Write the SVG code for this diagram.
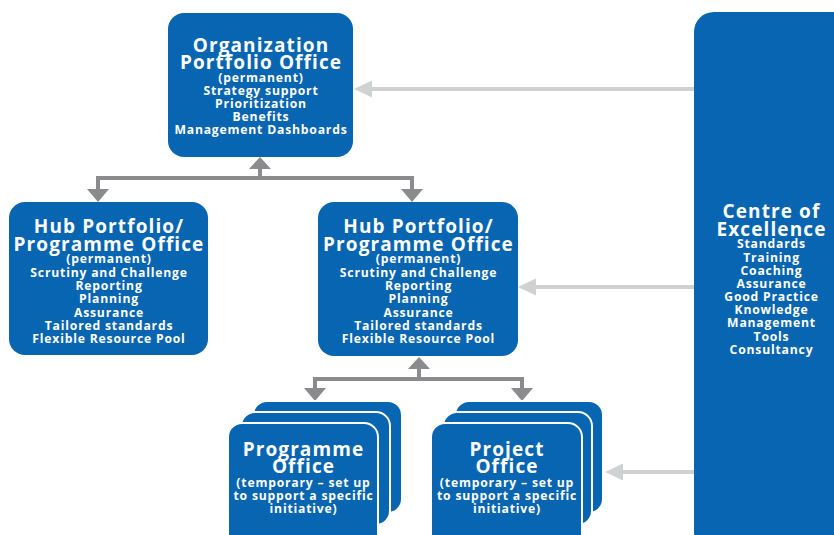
<svg xmlns="http://www.w3.org/2000/svg" width="834" height="535" viewBox="0 0 834 535">
<style>
.box{fill:#0865b1;}
.card{fill:#0865b1;stroke:#ffffff;stroke-width:2;}
.t{font-family:"Open Sans","Liberation Sans",sans-serif;font-weight:700;fill:#ffffff;text-anchor:middle;}
.h{font-size:19px;letter-spacing:1.1px;}
.s{font-size:12.2px;letter-spacing:0.8px;}
.dk{stroke:#8b8b8d;stroke-width:4;fill:none;}
.dkh{fill:#8b8b8d;}
.lt{stroke:#d0d1d3;stroke-width:4;fill:none;}
.lth{fill:#d0d1d3;}
</style>
<rect width="834" height="535" fill="#ffffff"/>
<g id="connectors">
<line class="lt" x1="694" y1="89" x2="370" y2="89"/>
<polygon class="lth" points="354,89 372,80.5 372,97.5"/>
<line class="lt" x1="694" y1="287" x2="533" y2="287"/>
<polygon class="lth" points="518,287 536,278.5 536,295.5"/>
<line class="lt" x1="694" y1="472" x2="620" y2="472"/>
<polygon class="lth" points="605,472 623,463.5 623,480.5"/>
<polyline class="dk" points="98,190 98,178 412,178 412,190"/>
<line class="dk" x1="260" y1="178" x2="260" y2="166"/>
<polygon class="dkh" points="260,157 249,169 271,169"/>
<polygon class="dkh" points="98,202 87,189 109,189"/>
<polygon class="dkh" points="412,202 401,189 423,189"/>
<polyline class="dk" points="315,389 315,379 522,379 522,389"/>
<line class="dk" x1="419" y1="379" x2="419" y2="367"/>
<polygon class="dkh" points="419,357 408,369 430,369"/>
<polygon class="dkh" points="315,401 304,388 326,388"/>
<polygon class="dkh" points="522,401 511,388 533,388"/>
</g>
<g id="org-portfolio-office">
<rect class="box" x="168" y="13" width="185" height="144" rx="16"/>
<text class="t h" x="261" y="52">Organization</text>
<text class="t h" x="261" y="69">Portfolio Office</text>
<text class="t s" x="261" y="82">(permanent)</text>
<text class="t s" x="261" y="95">Strategy support</text>
<text class="t s" x="261" y="108">Prioritization</text>
<text class="t s" x="261" y="121">Benefits</text>
<text class="t s" x="261" y="134">Management Dashboards</text>
</g>
<g id="hub-office-left">
<rect class="box" x="9" y="202" width="199" height="153" rx="16"/>
<text class="t h" x="109" y="233">Hub Portfolio/</text>
<text class="t h" x="109" y="251">Programme Office</text>
<text class="t s" x="109" y="263">(permanent)</text>
<text class="t s" x="109" y="277">Scrutiny and Challenge</text>
<text class="t s" x="109" y="290">Reporting</text>
<text class="t s" x="109" y="303">Planning</text>
<text class="t s" x="109" y="317">Assurance</text>
<text class="t s" x="109" y="330">Tailored standards</text>
<text class="t s" x="109" y="343">Flexible Resource Pool</text>
</g>
<g id="hub-office-right">
<rect class="box" x="318" y="202" width="200" height="154" rx="16"/>
<text class="t h" x="418.5" y="233">Hub Portfolio/</text>
<text class="t h" x="418.5" y="251">Programme Office</text>
<text class="t s" x="418.5" y="263">(permanent)</text>
<text class="t s" x="418.5" y="277">Scrutiny and Challenge</text>
<text class="t s" x="418.5" y="290">Reporting</text>
<text class="t s" x="418.5" y="303">Planning</text>
<text class="t s" x="418.5" y="317">Assurance</text>
<text class="t s" x="418.5" y="330">Tailored standards</text>
<text class="t s" x="418.5" y="343">Flexible Resource Pool</text>
</g>
<g id="programme-office">
<rect class="card" x="253" y="401" width="149" height="112" rx="14"/>
<rect class="card" x="241" y="412" width="149" height="113" rx="14"/>
<rect class="card" x="228" y="423" width="150" height="125" rx="14"/>
<text class="t h" x="303.5" y="456">Programme</text>
<text class="t h" x="303.5" y="473">Office</text>
<text class="t s" x="303.5" y="487">(temporary – set up</text>
<text class="t s" x="303.5" y="500">to support a specific</text>
<text class="t s" x="303.5" y="513">initiative)</text>
</g>
<g id="project-office">
<rect class="card" x="455" y="401" width="148" height="112" rx="14"/>
<rect class="card" x="443" y="412" width="149" height="113" rx="14"/>
<rect class="card" x="431" y="423" width="151" height="125" rx="14"/>
<text class="t h" x="507" y="456">Project</text>
<text class="t h" x="507" y="473">Office</text>
<text class="t s" x="507" y="487">(temporary – set up</text>
<text class="t s" x="507" y="500">to support a specific</text>
<text class="t s" x="507" y="513">initiative)</text>
</g>
<g id="centre-of-excellence">
<rect class="box" x="694" y="12" width="170" height="540" rx="20"/>
<text class="t h" x="771.5" y="218">Centre of</text>
<text class="t h" x="771.5" y="236">Excellence</text>
<text class="t s" x="771.5" y="248">Standards</text>
<text class="t s" x="771.5" y="262">Training</text>
<text class="t s" x="771.5" y="275">Coaching</text>
<text class="t s" x="771.5" y="288">Assurance</text>
<text class="t s" x="771.5" y="301">Good Practice</text>
<text class="t s" x="771.5" y="314">Knowledge</text>
<text class="t s" x="771.5" y="327">Management</text>
<text class="t s" x="771.5" y="341">Tools</text>
<text class="t s" x="771.5" y="354">Consultancy</text>
</g>
</svg>
